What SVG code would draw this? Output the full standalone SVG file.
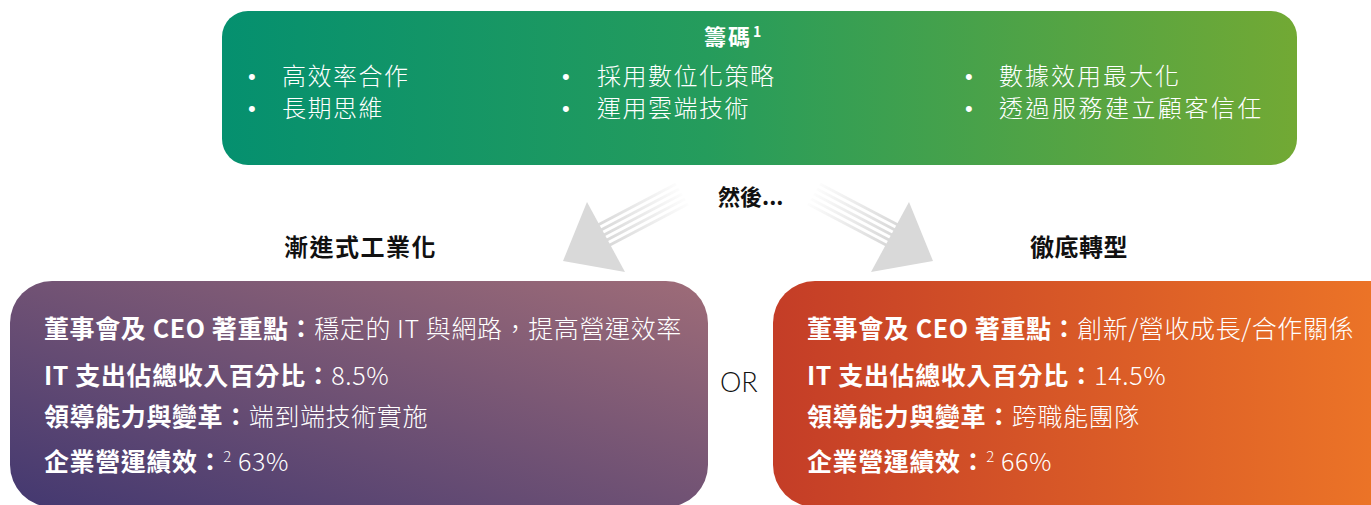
<svg xmlns="http://www.w3.org/2000/svg" width="1371" height="505" viewBox="0 0 1371 505">
  <defs>
    <linearGradient id="gTop" x1="0" y1="0" x2="1" y2="0">
      <stop offset="0" stop-color="#05906f"/>
      <stop offset="0.45" stop-color="#259c5c"/>
      <stop offset="1" stop-color="#72a934"/>
    </linearGradient>
    <linearGradient id="gLeft" x1="0" y1="1" x2="1" y2="0">
      <stop offset="0" stop-color="#433870"/>
      <stop offset="1" stop-color="#9e6c78"/>
    </linearGradient>
    <linearGradient id="gRight" x1="0" y1="0" x2="1" y2="0">
      <stop offset="0" stop-color="#c43d27"/>
      <stop offset="1" stop-color="#ee7727"/>
    </linearGradient>
    <linearGradient id="gStreak" gradientUnits="userSpaceOnUse" x1="605" y1="235" x2="688" y2="192">
      <stop offset="0" stop-color="#d9d9d9"/>
      <stop offset="1" stop-color="#d9d9d9" stop-opacity="0"/>
    </linearGradient>
    <g id="arrow">
      <g stroke="url(#gStreak)" stroke-width="3" stroke-linecap="butt" fill="none">
        <line x1="596" y1="226" x2="676" y2="184"/>
        <line x1="599" y1="231" x2="679" y2="189"/>
        <line x1="602" y1="236" x2="682" y2="194"/>
        <line x1="605" y1="241" x2="685" y2="199"/>
        <line x1="608" y1="246" x2="688" y2="204"/>
      </g>
      <polygon points="587,202 625,272 563,261" fill="#d9d9d9"/>
    </g>
  </defs>
  <style>
    .cjk { font-family: "Noto Sans CJK TC", "Noto Sans", sans-serif; }
    .w { fill: #ffffff; }
    .k { fill: #111111; }
    .b { font-weight: 700; }
    .l { font-weight: 300; }
    .bul { font-size: 24px; font-weight: 300; fill: #ffffff; }
    .dot { font-family: "Liberation Sans", sans-serif; font-size: 22px; fill: #ffffff; }
    .row { font-size: 25px; fill: #ffffff; letter-spacing: 0.6px; }
  </style>

  <g id="node-chips">
    <rect x="222" y="11" width="1075" height="154" rx="26" ry="26" fill="url(#gTop)"/>
    <text class="cjk w b" x="704" y="45" font-size="22" letter-spacing="2">籌碼<tspan font-size="14" dy="-8" dx="1">1</tspan></text>
    <g class="dot">
      <text x="248" y="84">•</text>
      <text x="248" y="116">•</text>
      <text x="562" y="84">•</text>
      <text x="562" y="116">•</text>
      <text x="965" y="84">•</text>
      <text x="965" y="116">•</text>
    </g>
    <g class="cjk bul">
      <text x="282" y="85" letter-spacing="1.5">高效率合作</text>
      <text x="282" y="117" letter-spacing="1.5">長期思維</text>
      <text x="597" y="85" letter-spacing="1.5">採用數位化策略</text>
      <text x="597" y="117" letter-spacing="1.5">運用雲端技術</text>
      <text x="999" y="85" letter-spacing="2">數據效用最大化</text>
      <text x="999" y="117" letter-spacing="2.5">透過服務建立顧客信任</text>
    </g>
  </g>

  <g id="connectors">
    <use href="#arrow"/>
    <use href="#arrow" transform="matrix(-1 0 0 1 1496 0)"/>
  </g>

  <g id="label-then">
    <text class="cjk k b" x="718" y="205" font-size="22">然後...</text>
  </g>

  <g id="title-left">
    <text class="cjk k b" x="284" y="256" font-size="24" letter-spacing="1.5">漸進式工業化</text>
  </g>
  <g id="title-right">
    <text class="cjk k b" x="1030" y="256" font-size="24" letter-spacing="0.5">徹底轉型</text>
  </g>

  <g id="node-left">
    <rect x="10" y="281" width="698" height="226" rx="42" ry="42" fill="url(#gLeft)"/>
    <g class="cjk row">
      <text x="44" y="338"><tspan class="b">董事會及 CEO 著重點：</tspan><tspan class="l">穩定的 IT 與網路，提高營運效率</tspan></text>
      <text x="44" y="385"><tspan class="b">IT 支出佔總收入百分比：</tspan><tspan class="l">8.5%</tspan></text>
      <text x="44" y="426"><tspan class="b">領導能力與變革：</tspan><tspan class="l">端到端技術實施</tspan></text>
      <text x="44" y="471"><tspan class="b">企業營運績效：</tspan><tspan class="l" font-size="15" dy="-9">2</tspan><tspan class="l" dy="9"> 63%</tspan></text>
    </g>
  </g>

  <g id="label-or">
    <text x="720" y="392" font-family="Lato, 'Noto Sans', sans-serif" font-weight="300" font-size="27" fill="#111111">OR</text>
  </g>

  <g id="node-right">
    <rect x="773" y="281" width="640" height="226" rx="42" ry="42" fill="url(#gRight)"/>
    <g class="cjk row">
      <text x="807" y="338"><tspan class="b">董事會及 CEO 著重點：</tspan><tspan class="l">創新/營收成長/合作關係</tspan></text>
      <text x="807" y="385"><tspan class="b">IT 支出佔總收入百分比：</tspan><tspan class="l">14.5%</tspan></text>
      <text x="807" y="426"><tspan class="b">領導能力與變革：</tspan><tspan class="l">跨職能團隊</tspan></text>
      <text x="807" y="471"><tspan class="b">企業營運績效：</tspan><tspan class="l" font-size="15" dy="-9">2</tspan><tspan class="l" dy="9"> 66%</tspan></text>
    </g>
  </g>
</svg>
